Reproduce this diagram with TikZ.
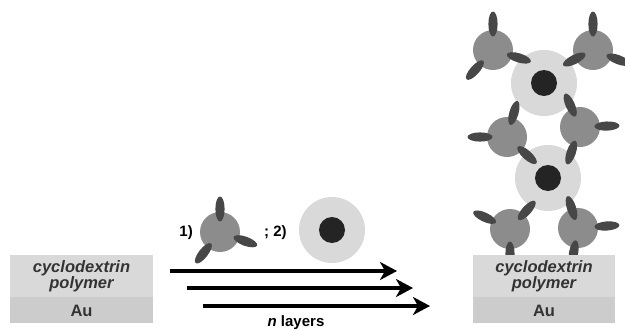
\documentclass[tikz,border=0pt]{standalone}
\usepackage{fontspec}
\setmainfont{Liberation Sans}
\usetikzlibrary{arrows.meta,calc}

\definecolor{cdc}{gray}{0.55}
\definecolor{armc}{gray}{0.28}
\definecolor{hostc}{gray}{0.85}
\definecolor{corec}{gray}{0.14}
\definecolor{polyc}{gray}{0.85}
\definecolor{auc}{gray}{0.80}
\definecolor{txtc}{gray}{0.20}

% one arm of a cyclodextrin: centre node, screen angle (clockwise), distance
\newcommand\cdarm[3]{%
  \fill[armc, shift={($(#1)+(#2:#3)$)}, rotate=-#2] (0,0) ellipse [x radius=12.5, y radius=4.6];}

\tikzset{
  cdball/.style={circle, fill=cdc, minimum size=40pt, inner sep=0pt},
  hostring/.style={circle, fill=hostc, minimum size=66pt, inner sep=0pt},
  hostcore/.style={circle, fill=corec, minimum size=26pt, inner sep=0pt},
  subtext/.style={text=txtc, font=\fontsize{16.5}{16}\selectfont\bfseries\itshape, align=center, inner sep=0pt},
  autext/.style={text=txtc, font=\fontsize{16.5}{16}\selectfont\bfseries, inner sep=0pt},
  lbl/.style={text=black, font=\fontsize{15}{15}\selectfont\bfseries, inner sep=0pt},
  layer/.style={line width=3.2pt, -{Stealth[length=17pt, width=18pt, inset=5pt]}}
}

\begin{document}
\begin{tikzpicture}[x=1pt, y=-1pt]
\useasboundingbox (0,0) rectangle (625,330);
\clip (0,0) rectangle (625,330);

% ---- bare substrate ----
\fill[polyc] (10,255) rectangle (153,297);
\fill[auc] (10,297) rectangle (153,323);
\node[subtext] (polyL) at (81.5,276) {cyclodextrin\\polymer};
\node[autext] (auL) at (81.5,311) {Au};

% ---- reagents ----
\node[lbl, anchor=east] (l1) at (193,233) {1)};
\node[cdball] (r1) at (220,232) {};
\cdarm{r1}{-90}{23}
\cdarm{r1}{20}{27}
\cdarm{r1}{128}{27}
\node[lbl, anchor=west] (l2) at (264,233) {; 2)};
\node[hostring] (r2) at (332,230) {};
\node[hostcore] (r2c) at (r2) {};

% ---- layer-by-layer arrows ----
\coordinate (a1s) at (170,271); \coordinate (a1e) at (397,271);
\coordinate (a2s) at (187,288); \coordinate (a2e) at (413,288);
\coordinate (a3s) at (203,306); \coordinate (a3e) at (430,306);
\draw[layer] (a1s) -- (a1e);
\draw[layer] (a2s) -- (a2e);
\draw[layer] (a3s) -- (a3e);
\node[font=\fontsize{15}{15}\selectfont\bfseries, anchor=base] (nl) at (296,326.5) {\textit{n} layers};

% ---- assembled multilayer ----
\node[hostring] (h1) at (544,83) {};
\node[hostcore] (h1c) at (h1) {};
\node[hostring] (h2) at (548,178) {};
\node[hostcore] (h2c) at (h2) {};

\node[cdball] (tl) at (493,50) {};
\cdarm{tl}{-90}{26}
\cdarm{tl}{17}{27}
\cdarm{tl}{132}{27}

\node[cdball] (tr) at (593,50) {};
\cdarm{tr}{-90}{26}
\cdarm{tr}{21}{27}
\cdarm{tr}{153}{21}

\node[cdball] (ml) at (507,137) {};
\cdarm{ml}{-74}{25}
\cdarm{ml}{180}{27}
\cdarm{ml}{42}{27}

\node[cdball] (mr) at (580,127) {};
\cdarm{mr}{-114}{24}
\cdarm{mr}{-2}{27}
\cdarm{mr}{109}{27}

\node[cdball] (bl) at (510,229) {};
\cdarm{bl}{-48}{25}
\cdarm{bl}{205}{28}
\cdarm{bl}{90}{25}

\node[cdball] (br) at (578,228) {};
\cdarm{br}{-108}{21}
\cdarm{br}{-4}{29}
\cdarm{br}{100}{25}

% ---- coated substrate ----
\fill[polyc] (473,255) rectangle (615,297);
\fill[auc] (473,297) rectangle (615,323);
\node[subtext] (polyR) at (544,276) {cyclodextrin\\polymer};
\node[autext] (auR) at (544,311) {Au};
\end{tikzpicture}
\end{document}
